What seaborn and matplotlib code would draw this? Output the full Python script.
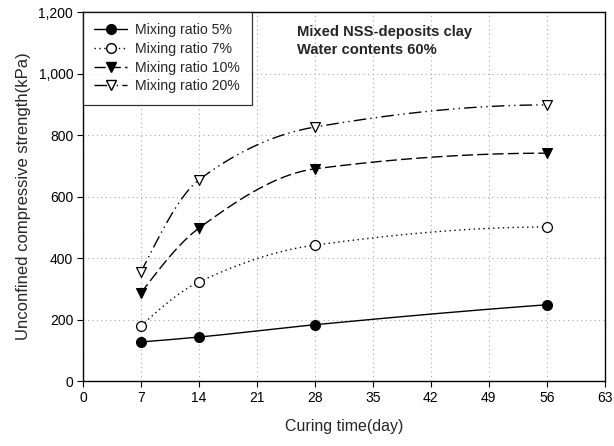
import numpy as np
import pandas as pd
import matplotlib
matplotlib.use("Agg")
import matplotlib.pyplot as plt
from matplotlib.lines import Line2D
from matplotlib.ticker import FuncFormatter
import seaborn as sns

days = [7, 14, 28, 56]
ratio_5 = [127, 143, 183, 248]
ratio_7 = [179, 322, 442, 501]
ratio_10 = [286, 497, 690, 741]
ratio_20 = [354, 654, 826, 898]
labels = ["Mixing ratio 5%", "Mixing ratio 7%", "Mixing ratio 10%", "Mixing ratio 20%"]
x_ticks = [0, 7, 14, 21, 28, 35, 42, 49, 56, 63]
y_ticks = [0, 200, 400, 600, 800, 1000, 1200]


def pchip(x, y, xs):
    """Monotone cubic (Fritsch-Carlson) curve through the measured points."""
    x = np.asarray(x, float)
    y = np.asarray(y, float)
    h = np.diff(x)
    d = np.diff(y) / h
    m = np.zeros_like(y)
    for k in range(1, len(x) - 1):
        if d[k - 1] * d[k] > 0:
            w1 = 2 * h[k] + h[k - 1]
            w2 = h[k] + 2 * h[k - 1]
            m[k] = (w1 + w2) / (w1 / d[k - 1] + w2 / d[k])
    m[0] = ((2 * h[0] + h[1]) * d[0] - h[0] * d[1]) / (h[0] + h[1])
    if np.sign(m[0]) != np.sign(d[0]):
        m[0] = 0
    m[-1] = ((2 * h[-1] + h[-2]) * d[-1] - h[-1] * d[-2]) / (h[-1] + h[-2])
    if np.sign(m[-1]) != np.sign(d[-1]):
        m[-1] = 0
    idx = np.clip(np.searchsorted(x, xs) - 1, 0, len(x) - 2)
    t = (xs - x[idx]) / h[idx]
    h00 = 2 * t**3 - 3 * t**2 + 1
    h10 = t**3 - 2 * t**2 + t
    h01 = -2 * t**3 + 3 * t**2
    h11 = t**3 - t**2
    return h00 * y[idx] + h10 * h[idx] * m[idx] + h01 * y[idx + 1] + h11 * h[idx] * m[idx + 1]


sns.set_theme(style="ticks")
plt.rcParams["font.family"] = ["Liberation Sans", "DejaVu Sans"]

fig = plt.figure(figsize=(6.14, 4.46), dpi=100)
ax = fig.add_axes([0.135, 0.1457, 0.85, 0.8273])

series = [ratio_5, ratio_7, ratio_10, ratio_20]
styles = [
    dict(ls="-", marker="o", mfc="black"),
    dict(ls=(0, (1, 2.5)), marker="o", mfc="white"),
    dict(ls=(0, (8, 3)), marker="v", mfc="black"),
    dict(ls=(0, (9, 3, 1, 3, 1, 3)), marker="v", mfc="white"),
]

xs = np.linspace(days[0], days[-1], 300)
rows = []
for lab, vals in zip(labels, series):
    for d, v in zip(days, vals):
        rows.append({"day": d, "ucs": v, "ratio": lab})
df = pd.DataFrame(rows)

handles = []
for lab, vals, st in zip(labels, series, styles):
    ax.plot(xs, pchip(days, vals, xs), color="black", lw=1.0, ls=st["ls"], zorder=2)
    sub = df[df["ratio"] == lab]
    sns.scatterplot(data=sub, x="day", y="ucs", ax=ax, marker=st["marker"],
                    s=50, color=st["mfc"], edgecolor="black", linewidth=0.9,
                    zorder=3, legend=False)
    handles.append(Line2D([], [], color="black", lw=1.0, ls=st["ls"],
                          marker=st["marker"], markersize=7,
                          markerfacecolor=st["mfc"], markeredgecolor="black"))

ax.set_xlim(0, 63)
ax.set_ylim(0, 1200)
ax.set_xticks(x_ticks)
ax.set_yticks(y_ticks)
ax.yaxis.set_major_formatter(FuncFormatter(lambda v, p: f"{int(v):,}"))
ax.grid(True, ls=(0, (1, 3)), color="#aaaaaa", lw=0.8)
for s in ax.spines.values():
    s.set_color("black")
    s.set_linewidth(1.0)
ax.tick_params(direction="out", length=4, width=0.8, colors="black",
               labelsize=10, pad=3)
ax.set_xlabel("Curing time(day)", fontsize=11.5, labelpad=10)
ax.set_ylabel("Unconfined compressive strength(kPa)", fontsize=12, labelpad=5)

leg = ax.legend(handles, labels, loc="upper left", bbox_to_anchor=(0, 1),
                fontsize=10.2, frameon=True, fancybox=False, edgecolor="black",
                borderpad=0.8, labelspacing=0.33, handlelength=2.3,
                handletextpad=0.6, borderaxespad=0)
leg.get_frame().set_linewidth(0.9)

ax.text(0.41, 0.965, "Mixed NSS-deposits clay\nWater contents 60%",
        transform=ax.transAxes, ha="left", va="top", fontsize=10.6,
        fontweight="bold", linespacing=1.35)

fig.savefig("out.png", dpi=100)
